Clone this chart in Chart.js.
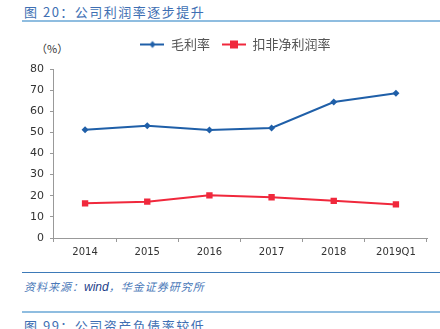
<!DOCTYPE html>
<html>
<head>
<meta charset="utf-8">
<script src="https://cdn.jsdelivr.net/npm/chart.js@4/dist/chart.umd.min.js"></script>
<style>
    body { margin: 0; background: #fff; width: 440px; height: 329px; overflow: hidden; position: relative; font-family: "Noto Sans CJK SC", sans-serif; }
    .title { position: absolute; left: 24px; top: 2px; font-size: 13px; color: #3e6fb3; letter-spacing: 1.5px; }
    .line1 { position: absolute; left: 22px; top: 20px; width: 418px; height: 2px; background: #8fbde0; }
    .unit { position: absolute; left: 36px; top: 40px; font-size: 11px; color: #333; }
    .wrap { position: absolute; left: 0; top: 26px; width: 440px; height: 236px; }
    .line2 { position: absolute; left: 22px; top: 272px; width: 418px; height: 1px; background: #3d7ab8; }
    .src { position: absolute; left: 24px; top: 278px; font-size: 11px; color: #4a78b8; font-style: italic; letter-spacing: 1px; }
    .src b { font-family: "Liberation Sans", sans-serif; font-weight: normal; color: #1f3f8a; font-size: 12px; letter-spacing: 0; }
    .line3 { position: absolute; left: 22px; top: 311px; width: 418px; height: 2px; background: #8fbde0; }
    .title2 { position: absolute; left: 24px; top: 316px; font-size: 13px; color: #3e6fb3; letter-spacing: 1.5px; }
</style>
</head>
<body>
<div class="title">图 20：公司利润率逐步提升</div>
<div class="line1"></div>
<div class="unit">（%）</div>
<div class="wrap"><canvas id="chart"></canvas></div>
<div class="line2"></div>
<div class="src">资料来源：<b>wind</b>，华金证券研究所</div>
<div class="line3"></div>
<div class="title2">图 99：公司资产负债率较低</div>
<script>
var years = ['2014', '2015', '2016', '2017', '2018', '2019Q1'];
var grossMargin = [51.3, 53.1, 51.1, 52.1, 64.4, 68.5];
var netMargin = [16.4, 17.2, 20.2, 19.3, 17.6, 15.9];
var yTicks = [0, 10, 20, 30, 40, 50, 60, 70, 80];

var BLUE = '#1f5fa8';
var RED = '#f0283c';

function legendIcon(color, square) {
    var c = document.createElement('canvas');
    c.width = 24; c.height = 10;
    var g = c.getContext('2d');
    g.strokeStyle = color; g.lineWidth = 2;
    g.beginPath(); g.moveTo(0, 5); g.lineTo(24, 5); g.stroke();
    g.fillStyle = color;
    if (square) {
        g.fillRect(8, 1, 8, 8);
    } else {
        g.beginPath(); g.moveTo(12, 1.5); g.lineTo(15, 5); g.lineTo(12, 8.5); g.lineTo(9, 5); g.closePath(); g.fill();
    }
    return c;
}
var icons = [legendIcon(BLUE, false), legendIcon(RED, true)];

// push the plot down a little under the legend and nudge the legend right
var legendTweak = {
    id: 'legendTweak',
    beforeInit: function(chart) {
        var fit = chart.legend.fit;
        chart.legend.fit = function() {
            fit.bind(chart.legend)();
            this.height += 8;
        };
    },
    afterLayout: function(chart) {
        chart.legend.left += 10;
        chart.legend.right += 10;
    }
};

var ctx = document.getElementById('chart').getContext('2d');
var chart = new Chart(ctx, {
    type: 'line',
    data: {
        labels: years,
        datasets: [{
            label: '毛利率',
            data: grossMargin,
            borderColor: BLUE,
            backgroundColor: BLUE,
            borderWidth: 2,
            pointStyle: 'rectRot',
            pointRadius: 3.5,
            pointBorderWidth: 0,
            tension: 0
        }, {
            label: '扣非净利润率',
            data: netMargin,
            borderColor: RED,
            backgroundColor: RED,
            borderWidth: 2,
            pointStyle: 'rect',
            pointRadius: 4.5,
            pointBorderWidth: 0,
            tension: 0
        }]
    },
    plugins: [legendTweak],
    options: {
        responsive: true,
        maintainAspectRatio: false,
        animation: false,
        layout: { padding: { left: 24, right: 13, top: 0, bottom: 0 } },
        plugins: {
            tooltip: { enabled: false },
            legend: {
                position: 'top',
                align: 'center',
                labels: {
                    usePointStyle: true,
                    pointStyleWidth: 24,
                    color: '#555',
                    font: { family: '"Noto Sans CJK SC", sans-serif', size: 13 },
                    padding: 12,
                    generateLabels: function(c) {
                        return c.data.datasets.map(function(ds, i) {
                            return { text: ds.label, pointStyle: icons[i], fontColor: '#555', datasetIndex: i, lineWidth: 0, strokeStyle: 'transparent', fillStyle: 'transparent' };
                        });
                    }
                }
            }
        },
        scales: {
            x: {
                offset: true,
                grid: { offset: true, drawOnChartArea: false, drawTicks: true, tickLength: 4, color: '#999' },
                border: { color: '#999', width: 1 },
                ticks: { color: '#333', font: { family: '"DejaVu Sans", sans-serif', size: 10 }, padding: 4, maxRotation: 0 }
            },
            y: {
                min: 0,
                max: 80,
                afterBuildTicks: function(axis) {
                    axis.ticks = yTicks.map(function(v) { return { value: v }; });
                },
                grid: { drawOnChartArea: false, drawTicks: true, tickLength: 4, color: '#999' },
                border: { color: '#999', width: 1 },
                ticks: { color: '#333', font: { family: '"DejaVu Sans", sans-serif', size: 11 }, padding: 6 }
            }
        }
    }
});
</script>
</body>
</html>
